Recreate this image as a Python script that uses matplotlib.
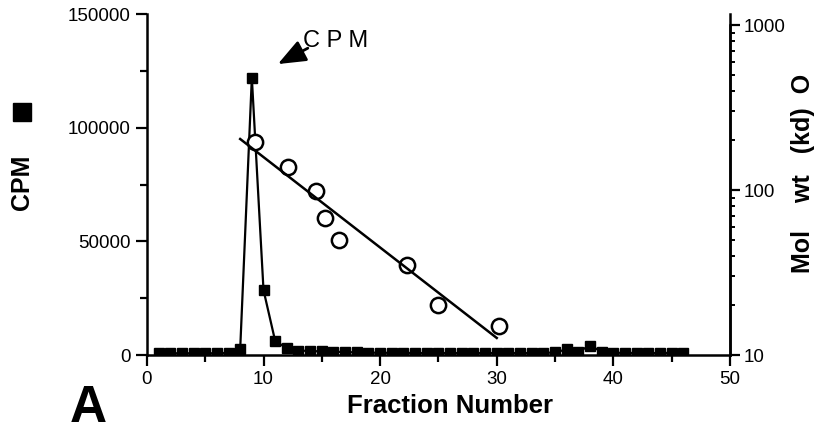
import numpy as np
import matplotlib.pyplot as plt
from matplotlib.lines import Line2D
from matplotlib.ticker import MultipleLocator, LogLocator, NullFormatter

plt.rcParams['font.family'] = ['Liberation Sans', 'DejaVu Sans']

# CPM per fraction (filled squares)
fraction = np.arange(1, 47)
cpm = [800, 800, 800, 800, 800, 800, 1000, 2500, 122000, 28600,
       6200, 3000, 2000, 1800, 1600, 1500, 1300, 1200, 1100, 1000,
       1000, 1000, 900, 900, 900, 900, 900, 900, 900, 900,
       900, 900, 900, 900, 1200, 2500, 1500, 4200, 1500, 1000,
       1000, 900, 900, 900, 1000, 900]

# molecular weight standards (open circles)
mw_frac = [9.3, 12.1, 14.5, 15.3, 16.5, 22.3, 25.0, 30.2]
mw_kd = [196, 138, 99, 68, 50, 35, 20, 15]

# regression line endpoints
fit_frac = [8.0, 30.0]
fit_kd = [204, 12.7]

fig = plt.figure(figsize=(8.16, 4.4), dpi=100)
ax = fig.add_axes([0.180, 0.193, 0.7146, 0.775])
ax.plot(fraction, cpm, color='black', lw=1.6, marker='s', ms=6.5)
ax.set_xlim(0, 50)
ax.set_ylim(0, 150000)
ax.xaxis.set_major_locator(MultipleLocator(10))
ax.xaxis.set_minor_locator(MultipleLocator(5))
ax.yaxis.set_major_locator(MultipleLocator(50000))
ax.yaxis.set_minor_locator(MultipleLocator(25000))
ax.tick_params(which='both', direction='out', width=1.6, labelsize=13.5)
ax.tick_params(which='major', length=8)
ax.tick_params(which='minor', length=5)
for s in ['left', 'bottom', 'right']:
    ax.spines[s].set_linewidth(1.8)
ax.spines['top'].set_visible(False)

ax2 = ax.twinx()
ax2.set_yscale('log')
ax2.set_ylim(10, 1166)
ax2.spines['right'].set_bounds(10, 1000)
ax2.spines['right'].set_linewidth(1.8)
for s in ['top', 'left', 'bottom']:
    ax2.spines[s].set_visible(False)
ax2.plot(mw_frac, mw_kd, linestyle='none', marker='o', ms=11,
         mfc='white', mec='black', mew=1.8)
ax2.plot(fit_frac, fit_kd, color='black', lw=1.8)
ax2.yaxis.set_minor_locator(LogLocator(base=10, subs=np.arange(2, 10), numticks=10))
ax2.yaxis.set_minor_formatter(NullFormatter())
ax2.set_yticks([10, 100, 1000])
ax2.set_yticklabels(['10', '100', '1000'])
ax2.tick_params(which='major', direction='out', length=7, width=1.6, labelsize=13.5, pad=3)
ax2.tick_params(which='minor', direction='out', length=3.5, width=1.4)

# arrow pointing at the CPM peak
ax.annotate('', xy=(11.23, 128000), xytext=(13.8, 135000),
            arrowprops=dict(arrowstyle='-|>,head_length=1.0,head_width=0.4',
                            color='black', lw=2.0, mutation_scale=17,
                            shrinkA=0, shrinkB=0))
ax.text(13.38, 138300, 'C P M', fontsize=17, ha='left', va='center')

ax.set_xlabel('Fraction Number', fontsize=18.5, fontweight='bold')
ax.xaxis.set_label_coords(0.52, -0.150)
ax.xaxis.label.set_va('center')

fig.text(0.027, 0.585, 'CPM', rotation=90, fontsize=18,
         fontweight='bold', ha='center', va='center')
fig.add_artist(Line2D([0.027], [0.745], marker='s', ms=13.5, color='black',
                      transform=fig.transFigure))
fig.text(0.984, 0.606, 'Mol    wt   (kd)  O', rotation=90, fontsize=18,
         fontweight='bold', ha='center', va='center')
fig.text(0.086, 0.04, 'A', fontsize=37, fontweight='bold', ha='left', va='baseline')

fig.savefig('out.png', dpi=100, facecolor='white')
